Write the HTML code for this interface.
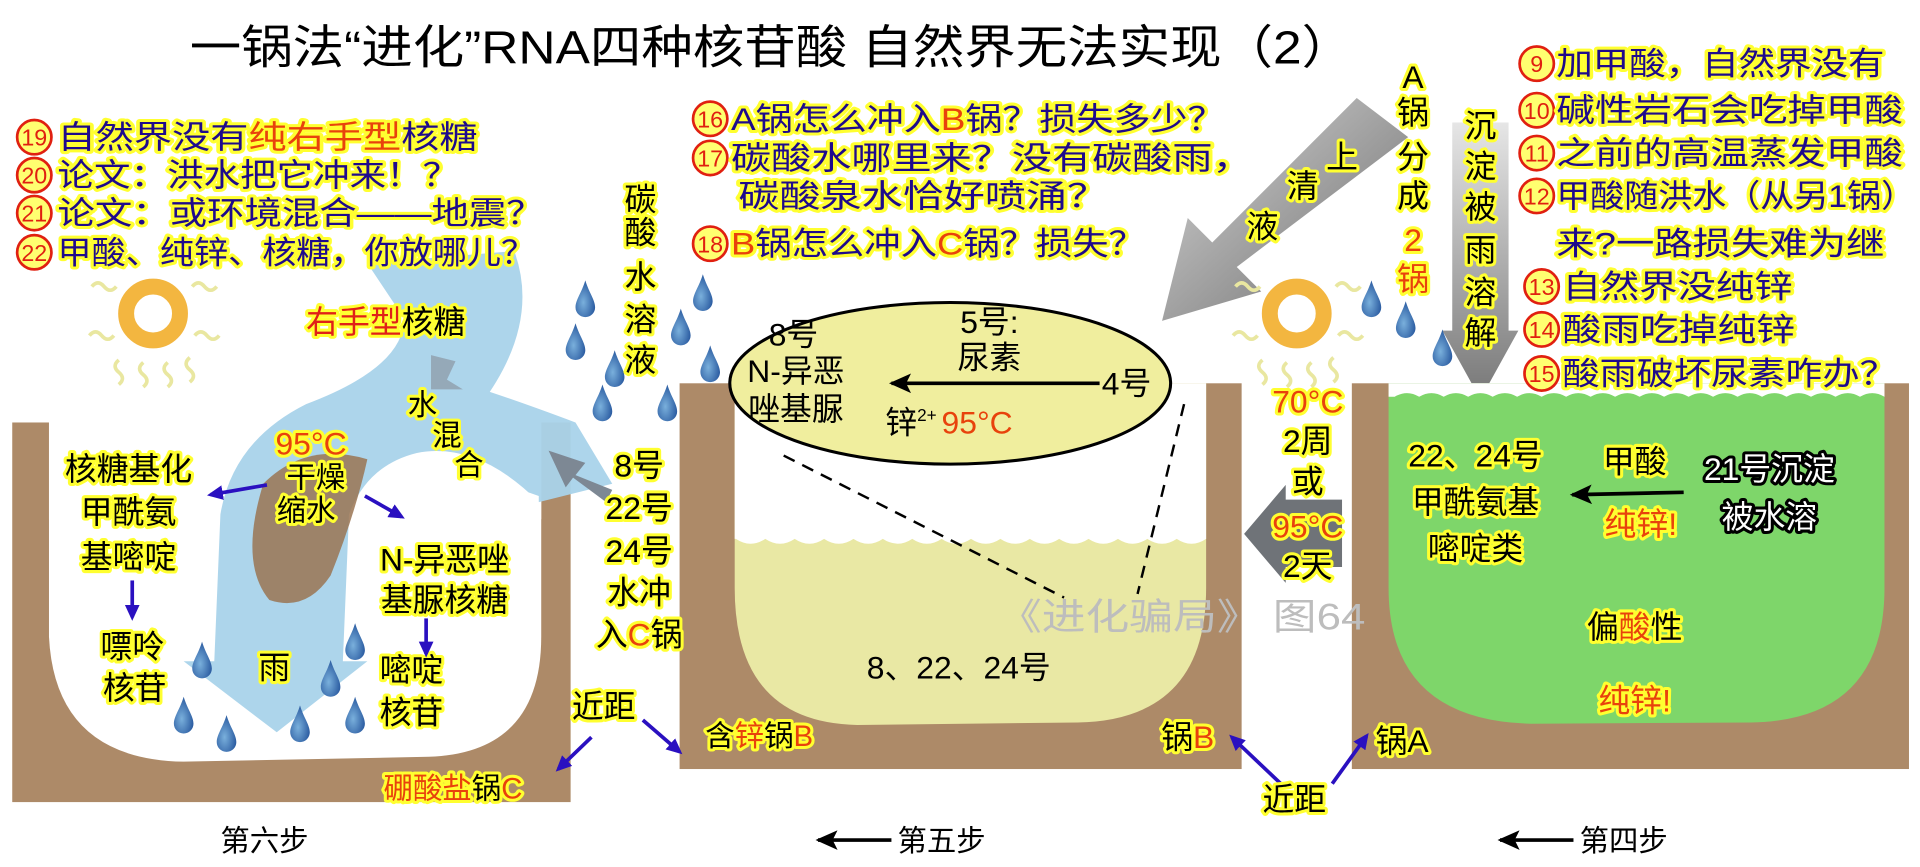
<!DOCTYPE html>
<html><head><meta charset="utf-8">
<style>
html,body{margin:0;padding:0;background:#fff;}
svg{display:block;}
text{font-family:"Liberation Sans","Noto Sans CJK SC",sans-serif;}
.y{paint-order:stroke;stroke:#ffff30;stroke-width:5;stroke-linejoin:round;}
.n{fill:#1e0a8c;font-size:26px;}
.k{fill:#000;font-size:26px;}
.o{fill:#e8420c;}
.cc circle{fill:#ffff70;stroke:#e02010;stroke-width:2.2;}
.cc text{fill:#e02010;font-size:19px;text-anchor:middle;}
</style></head>
<body>
<svg width="1920" height="867" viewBox="0 0 1568 708" preserveAspectRatio="none" xmlns="http://www.w3.org/2000/svg">
<defs>
<marker id="ab" markerWidth="14" markerHeight="14" refX="10" refY="7" orient="auto" markerUnits="userSpaceOnUse"><path d="M0,1 L13,7 L0,13 Z" fill="#2a10c0"/></marker>
<marker id="ak" markerWidth="20" markerHeight="16" refX="16" refY="8" orient="auto" markerUnits="userSpaceOnUse"><path d="M18,8 L0,0 L4,8 L0,16 Z" fill="#000"/></marker>
<linearGradient id="gr" x1="0" y1="0" x2="1" y2="1"><stop offset="0" stop-color="#d8d8d8"/><stop offset="1" stop-color="#6a6a6a"/></linearGradient>
<linearGradient id="gv" x1="0" y1="0" x2="0" y2="1"><stop offset="0" stop-color="#e6e6e6"/><stop offset="1" stop-color="#777"/></linearGradient>
<radialGradient id="drop" cx="0.4" cy="0.6" r="0.7"><stop offset="0" stop-color="#7ab0dc"/><stop offset="1" stop-color="#1f4f98"/></radialGradient>
<g id="d"><path d="M0,-16 C3,-6 8,0 8,6 A8,8 0 0 1 -8,6 C-8,0 -3,-6 0,-16Z" fill="url(#drop)"/></g>
<g id="sun"><circle r="22" fill="none" stroke="#f3b640" stroke-width="13"/><circle r="10" fill="#fff"/>
<g fill="none" stroke="#e9e7a0" stroke-width="3"><path d="M-50,-22 q5,-6 10,0 t10,0"/><path d="M32,-22 q5,-6 10,0 t10,0"/><path d="M-52,18 q5,-6 10,0 t10,0"/><path d="M34,18 q5,-6 10,0 t10,0"/><path d="M-28,38 q-6,5 0,10 t0,10"/><path d="M-8,40 q-6,5 0,10 t0,10"/><path d="M12,40 q-6,5 0,10 t0,10"/><path d="M30,36 q-6,5 0,10 t0,10"/></g></g>
</defs>

<!-- Title -->
<text x="155" y="52" font-size="38" fill="#000" textLength="950" lengthAdjust="spacingAndGlyphs">一锅法“进化”RNA四种核苷酸 自然界无法实现（2）</text>

<!-- POT C -->
<rect x="10" y="345" width="456" height="310" fill="#ad8a68"/>
<rect x="40" y="300" width="402" height="124" fill="#fff"/>
<path d="M40,345 L442,345 L442,520 Q442,615 350,618 L150,622 Q45,620 40,520 Z" fill="#fff"/>
<!-- river -->
<path d="M300,215 L420,205 Q440,260 400,320 Q430,330 470,345 L500,395 L440,410 Q390,360 340,370 Q300,380 285,420 L280,540 L300,540 L226,598 L150,540 L175,540 L180,420 Q190,360 250,330 Q330,300 330,260 Z" fill="#a9d3ea" opacity="0.95"/>
<path d="M215,395 Q250,360 300,375 Q290,420 270,470 Q250,500 220,490 Q195,460 215,395Z" fill="#9a7452" opacity="0.85"/>
<path d="M300,395 Q350,380 380,400 Q400,390 440,405 L440,430 Q370,420 310,430Z" fill="#fff"/>
<!-- gray arrow into C -->
<path d="M500,400 L470,388 L478,378 L448,368 L462,398 L468,390 L495,410Z" fill="#7d8894"/>
<path d="M352,290 L372,295 L365,310 L378,318 L352,318Z" fill="#8a96a2" opacity="0.7"/>
<!-- drops -->
<use href="#d" x="150" y="585"/><use href="#d" x="185" y="600"/><use href="#d" x="245" y="592"/><use href="#d" x="290" y="585"/><use href="#d" x="165" y="540"/><use href="#d" x="290" y="525"/><use href="#d" x="270" y="555"/>
<use href="#d" x="478" y="245"/><use href="#d" x="470" y="280"/><use href="#d" x="502" y="302"/><use href="#d" x="492" y="330"/><use href="#d" x="574" y="240"/><use href="#d" x="556" y="268"/><use href="#d" x="580" y="298"/><use href="#d" x="545" y="330"/>
<use href="#sun" x="125" y="256"/>

<!-- POT B -->
<rect x="555" y="313" width="459" height="315" fill="#ad8a68"/>
<path d="M600,313 L985,313 L985,480 Q985,588 880,590 L700,592 Q600,590 600,480 Z" fill="#e9e8a4"/>
<path d="M600,313 L985,313 L985,440 q-12,8 -24,0 q-12,8 -24,0 q-12,8 -24,0 q-12,8 -24,0 q-12,8 -24,0 q-12,8 -24,0 q-12,8 -24,0 q-12,8 -24,0 q-12,8 -24,0 q-12,8 -24,0 q-12,8 -24,0 q-12,8 -24,0 q-12,8 -24,0 q-12,8 -24,0 q-12,8 -24,0 q-12,8 -24,0 L600,440Z" fill="#fff"/>
<g stroke="#000" stroke-width="2" stroke-dasharray="10,7" fill="none"><path d="M640,372 L869,488"/><path d="M967,330 L929,485"/></g>
<ellipse cx="776" cy="313" rx="180" ry="66" fill="#f0ee9e" stroke="#000" stroke-width="2.5"/>
<!-- diagonal big arrow -->
<path d="M1108,80 L1150,112 L1010,218 L1030,238 L949,262 L970,178 L990,198 Z" fill="url(#gr)"/>
<!-- vertical big arrow -->
<path d="M1186,100 L1232,100 L1232,270 L1240,270 L1209,326 L1178,270 L1186,270 Z" fill="url(#gv)"/>
<use href="#sun" x="1059" y="256"/>
<use href="#d" x="1120" y="245"/><use href="#d" x="1148" y="262"/><use href="#d" x="1178" y="285"/>

<!-- gap arrow -->
<path d="M1096,408 L1050,408 L1050,396 L1016,436 L1050,476 L1050,463 L1096,463Z" fill="#6f7378"/>

<!-- POT A -->
<rect x="1104" y="313" width="455" height="315" fill="#ad8a68"/>
<path d="M1134,313 L1539,313 L1539,480 Q1539,588 1430,590 L1250,591 Q1134,588 1134,480 Z" fill="#7ed66a"/>
<path d="M1134,313 L1539,313 L1539,324 q-10,-6 -20,0 q-10,-6 -20,0 q-10,-6 -20,0 q-10,-6 -20,0 q-10,-6 -20,0 q-10,-6 -20,0 q-10,-6 -20,0 q-10,-6 -20,0 q-10,-6 -20,0 q-10,-6 -20,0 q-10,-6 -20,0 q-10,-6 -20,0 q-10,-6 -20,0 q-10,-6 -20,0 q-10,-6 -20,0 q-10,-6 -20,0 q-10,-6 -20,0 q-10,-6 -20,0 q-10,-6 -20,0 q-10,-6 -20,0 L1134,324Z" fill="#fff"/>

<!-- watermark -->
<text x="815" y="514" font-size="30" fill="#bdbdbd" textLength="300" lengthAdjust="spacingAndGlyphs">《进化骗局》 图64</text>

<!-- circled numbers -->
<g class="cc">
<circle cx="28" cy="112" r="14"/><text x="28" y="119">19</text>
<circle cx="28" cy="143" r="14"/><text x="28" y="150">20</text>
<circle cx="28" cy="174" r="14"/><text x="28" y="181">21</text>
<circle cx="28" cy="206" r="14"/><text x="28" y="213">22</text>
<circle cx="580" cy="97" r="14"/><text x="580" y="104">16</text>
<circle cx="580" cy="129" r="14"/><text x="580" y="136">17</text>
<circle cx="580" cy="199" r="14"/><text x="580" y="206">18</text>
<circle cx="1255" cy="52" r="14"/><text x="1255" y="59">9</text>
<circle cx="1255" cy="90" r="14"/><text x="1255" y="97">10</text>
<circle cx="1255" cy="125" r="14"/><text x="1255" y="132">11</text>
<circle cx="1255" cy="160" r="14"/><text x="1255" y="167">12</text>
<circle cx="1259" cy="234" r="14"/><text x="1259" y="241">13</text>
<circle cx="1259" cy="269" r="14"/><text x="1259" y="276">14</text>
<circle cx="1259" cy="305" r="14"/><text x="1259" y="312">15</text>
</g>

<!-- Left text list -->
<g class="n">
<text x="47" y="121" class="y" textLength="343" lengthAdjust="spacingAndGlyphs">自然界没有<tspan class="o">纯右手型</tspan>核糖</text>
<text x="47" y="152" class="y" textLength="328" lengthAdjust="spacingAndGlyphs">论文：洪水把它冲来！？</text>
<text x="47" y="183" class="y" textLength="397" lengthAdjust="spacingAndGlyphs">论文：或环境混合——地震？</text>
<text x="47" y="215" class="y" textLength="390" lengthAdjust="spacingAndGlyphs">甲酸、纯锌、核糖，你放哪儿？</text>
</g>
<!-- Middle list -->
<g class="n">
<text x="597" y="106" class="y" textLength="403" lengthAdjust="spacingAndGlyphs">A锅怎么冲入<tspan class="o">B</tspan>锅？损失多少？</text>
<text x="597" y="138" class="y" textLength="426" lengthAdjust="spacingAndGlyphs">碳酸水哪里来？没有碳酸雨，</text>
<text x="603" y="169" class="y" textLength="302" lengthAdjust="spacingAndGlyphs">碳酸泉水恰好喷涌？</text>
<text x="597" y="208" class="y" textLength="338" lengthAdjust="spacingAndGlyphs"><tspan class="o">B</tspan>锅怎么冲入<tspan class="o">C</tspan>锅？损失？</text>
</g>
<!-- Right list -->
<g class="n">
<text x="1271" y="61" class="y" textLength="268" lengthAdjust="spacingAndGlyphs">加甲酸，自然界没有</text>
<text x="1271" y="99" class="y" textLength="283" lengthAdjust="spacingAndGlyphs">碱性岩石会吃掉甲酸</text>
<text x="1271" y="134" class="y" textLength="283" lengthAdjust="spacingAndGlyphs">之前的高温蒸发甲酸</text>
<text x="1271" y="169" class="y" textLength="293" lengthAdjust="spacingAndGlyphs">甲酸随洪水（从另1锅）</text>
<text x="1271" y="208" class="y" textLength="268" lengthAdjust="spacingAndGlyphs">来?一路损失难为继</text>
<text x="1276" y="243" class="y" textLength="188" lengthAdjust="spacingAndGlyphs">自然界没纯锌</text>
<text x="1276" y="278" class="y" textLength="190" lengthAdjust="spacingAndGlyphs">酸雨吃掉纯锌</text>
<text x="1276" y="314" class="y" textLength="273" lengthAdjust="spacingAndGlyphs">酸雨破坏尿素咋办？</text>
</g>

<!-- Vertical texts -->
<g class="k y" font-size="26" text-anchor="middle">
<text x="1154" y="72">A</text><text x="1154" y="101">锅</text><text x="1154" y="137">分</text><text x="1154" y="169">成</text>
<text x="1154" y="205" class="o">2</text><text x="1154" y="237" class="o">锅</text>
<text x="1209" y="112">沉</text><text x="1209" y="145">淀</text><text x="1209" y="178">被</text><text x="1209" y="213">雨</text><text x="1209" y="248">溶</text><text x="1209" y="281">解</text>
<text x="1096" y="137">上</text><text x="1064" y="161">清</text><text x="1031" y="194">液</text>
<text x="523" y="172">碳</text><text x="523" y="199">酸</text><text x="523" y="235">水</text><text x="523" y="270">溶</text><text x="523" y="303">液</text>
</g>

<!-- Pot C labels -->
<g class="k y" font-size="26" text-anchor="middle">
<text x="315" y="272" class="o" style="fill:#e02018">右手型<tspan style="fill:#000">核糖</tspan></text>
<text x="345" y="339" font-size="24">水</text><text x="365" y="364" font-size="24">混</text><text x="383" y="388" font-size="24">合</text>
<text x="254" y="371" class="o">95°C</text>
<text x="258" y="398" font-size="24">干燥</text><text x="250" y="425" font-size="24">缩水</text>
<text x="105" y="392">核糖基化</text><text x="105" y="427">甲酰氨</text><text x="105" y="464">基嘧啶</text>
<text x="108" y="537">嘌呤</text><text x="110" y="571">核苷</text>
<text x="224" y="554">雨</text>
<text x="363" y="466">N-异恶唑</text><text x="363" y="499">基脲核糖</text>
<text x="336" y="556">嘧啶</text><text x="336" y="591">核苷</text>
<text x="522" y="389">8号</text><text x="522" y="424">22号</text><text x="522" y="459">24号</text><text x="522" y="493">水冲</text><text x="522" y="527">入<tspan class="o">C</tspan>锅</text>
<text x="493" y="586">近距</text>
<text x="620" y="609" font-size="24">含<tspan class="o">锌</tspan>锅<tspan class="o">B</tspan></text>
<text x="370" y="652" font-size="24"><tspan class="o">硼酸盐</tspan>锅<tspan class="o">C</tspan></text>
</g>
<g stroke="#2a10c0" stroke-width="3" fill="none" marker-end="url(#ab)">
<path d="M218,396 L172,404"/><path d="M108,474 L108,504"/><path d="M298,405 L328,422"/><path d="M348,505 L348,534"/>
<path d="M525,588 L555,614"/><path d="M483,602 L456,628"/>
<path d="M1046,640 L1006,602"/><path d="M1088,640 L1116,601"/>
</g>

<!-- Pot B labels -->
<g class="k" font-size="24" text-anchor="middle">
<text x="648" y="282">8号</text><text x="650" y="312">N-异恶</text><text x="650" y="343">唑基脲</text>
<text x="808" y="272">5号:</text><text x="808" y="301">尿素</text><text x="920" y="322">4号</text>
<text x="775" y="354">锌<tspan font-size="14" dy="-10">2+</tspan><tspan dy="10" fill="#e8420c" dx="4">95°C</tspan></text>
<text x="783" y="554" font-size="26">8、22、24号</text>
</g>
<path d="M898,313 L728,313" stroke="#000" stroke-width="3" marker-end="url(#ak)"/>
<g class="k y" font-size="24" text-anchor="middle">
<text x="970" y="611">锅<tspan class="o">B</tspan></text>
<text x="1145" y="614">锅A</text>
<text x="1057" y="662" font-size="26">近距</text>
<text x="1068" y="337" class="o">70°C</text><text x="1068" y="369">2周</text><text x="1068" y="402">或</text>
<text x="1068" y="439" class="o">95°C</text><text x="1068" y="471">2天</text>
</g>

<!-- Pot A labels -->
<g class="k y" font-size="26" text-anchor="middle">
<text x="1205" y="381">22、24号</text><text x="1205" y="419">甲酰氨基</text><text x="1205" y="457">嘧啶类</text>
<text x="1335" y="386">甲酸</text><text x="1340" y="437" class="o">纯锌!</text>
<text x="1335" y="521">偏<tspan class="o">酸</tspan>性</text>
<text x="1335" y="581" class="o">纯锌!</text>
</g>
<path d="M1375,402 L1284,404" stroke="#000" stroke-width="3" marker-end="url(#ak)"/>
<g font-size="26" text-anchor="middle" fill="#fff" style="paint-order:stroke;stroke:#000;stroke-width:5;stroke-linejoin:round">
<text x="1445" y="392">21号沉淀</text><text x="1445" y="431">被水溶</text>
</g>

<!-- bottom step labels -->
<g font-size="24" fill="#000">
<text x="180" y="695">第六步</text>
<text x="733" y="695">第五步</text>
<text x="1290" y="695">第四步</text>
</g>
<path d="M728,686 L668,686" stroke="#000" stroke-width="3" marker-end="url(#ak)"/>
<path d="M1285,686 L1225,686" stroke="#000" stroke-width="3" marker-end="url(#ak)"/>
</svg>
</body></html>
